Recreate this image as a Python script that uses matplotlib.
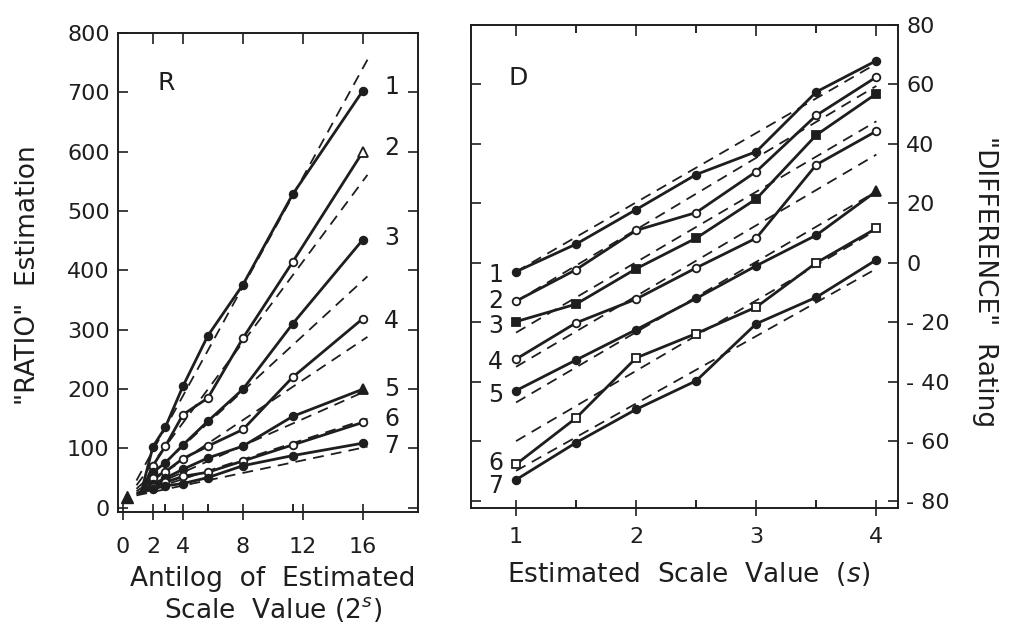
import matplotlib
matplotlib.use("Agg")
import matplotlib.pyplot as plt
from matplotlib.ticker import FixedLocator

plt.rcParams['font.family'] = ['DejaVu Sans']

# ---------------- data ----------------
# Estimated scale values (s) and their antilogs (2^s)
scale_s = [1, 1.5, 2, 2.5, 3, 3.5, 4]
antilog_x = [2, 2.83, 4, 5.66, 8, 11.31, 16]

series_ids = ["1", "2", "3", "4", "5", "6", "7"]

# "RATIO" estimation (left panel)
ratio_1 = [103, 136, 205, 290, 376, 528, 703]
ratio_2 = [71, 104, 157, 185, 286, 414, 600]
ratio_3 = [60, 76, 106, 146, 200, 310, 452]
ratio_4 = [50, 61, 83, 104, 132, 220, 319]
ratio_5 = [40, 50, 65, 84, 104, 154, 200]
ratio_6 = [35, 43, 53, 60, 79, 106, 144]
ratio_7 = [32, 37, 41, 51, 71, 88, 109]
ratio_series = [ratio_1, ratio_2, ratio_3, ratio_4, ratio_5, ratio_6, ratio_7]
# common origin where the ratio curves converge, and the triangle near zero
ratio_origin_x = 1.2
ratio_origin_y = 25
ratio_anchor_x = 0.3
ratio_anchor_y = 18
# dashed linear fits (start / end values)
ratio_fit_x = [0.9, 16.3]
ratio_fit_start = [46, 38, 32, 28, 25, 23, 21]
ratio_fit_end = [755, 561, 390, 288, 198, 150, 103]

# "DIFFERENCE" rating (right panel)
diff_1 = [-3, 6.3, 17.9, 29.7, 37.4, 57.5, 68]
diff_2 = [-12.9, -2.3, 10.9, 16.9, 30.7, 49.6, 62.5]
diff_3 = [-19.8, -13.9, -2, 8.3, 21.5, 43, 56.9]
diff_4 = [-32.4, -20.2, -12.2, -1.7, 8.3, 33, 44.3]
diff_5 = [-43, -32.7, -22.5, -12, -1, 9.3, 24.1]
diff_6 = [-67.8, -52.2, -32, -23.8, -14.9, 0, 11.6]
diff_7 = [-73, -60.5, -49.3, -39.7, -20.5, -11.6, 1]
diff_series = [diff_1, diff_2, diff_3, diff_4, diff_5, diff_6, diff_7]
diff_fit_x = [1, 4]
diff_fit_start = [-3, -13, -23.5, -35, -47, -60, -70]
diff_fit_end = [67, 59.5, 47.6, 36.4, 24, 11, -2]

# tick labels
ratio_xticks = [0, 2, 4, 8, 12, 16]
ratio_yticks = [0, 100, 200, 300, 400, 500, 600, 700, 800]
diff_xticks = [1, 2, 3, 4]
diff_yticks = [-80, -60, -40, -20, 0, 20, 40, 60, 80]
diff_ylabels = ["- 80", "- 60", "- 40", "- 20", "0", "20", "40", "60", "80"]

# marker styles per series: (marker, filled), last-point marker
ratio_markers = [("o", True), ("o", False), ("o", True), ("o", False),
                 ("o", True), ("o", False), ("o", True)]
ratio_last = [None, ("^", False), None, None, ("^", True), None, None]
diff_markers = [("o", True), ("o", False), ("s", True), ("o", False),
                ("o", True), ("s", False), ("o", True)]
diff_last = [None, None, None, None, ("^", True), None, None]

# small label nudges (styling only) to keep the series numbers apart
ratio_label_nudge = [6, 6, 2, -4, 0, 5, -5]
diff_label_nudge = [-1, 0, -1.5, -1, -1.5, 0.5, -2]

INK = "#1e1e1e"
W, H = 1013, 627

fig = plt.figure(figsize=(W / 100, H / 100), dpi=100)
ax1 = fig.add_axes([118 / W, 1 - 512 / H, 300 / W, 479 / H])
ax2 = fig.add_axes([471 / W, 1 - 508 / H, 427 / W, 483 / H])


def draw_series(ax, xs, ys, marker, filled, last):
    ax.plot(xs, ys, color=INK, lw=2.0, solid_capstyle="round", zorder=3)
    mfc = INK if filled else "white"
    ax.plot(xs[:-1] if last else xs, ys[:-1] if last else ys, ls="none",
            marker=marker, ms=5.5, mfc=mfc, mec=INK, mew=1.3, zorder=4)
    if last:
        lm, lf = last
        ax.plot(xs[-1:], ys[-1:], ls="none", marker=lm, ms=7,
                mfc=INK if lf else "white", mec=INK, mew=1.3, zorder=4)


# ---------- left panel ----------
for i, ys in enumerate(ratio_series):
    ax1.plot(ratio_fit_x, [ratio_fit_start[i], ratio_fit_end[i]], color=INK,
             lw=1.3, dashes=(6, 4), zorder=2)
    ax1.plot([ratio_origin_x, antilog_x[0]], [ratio_origin_y, ys[0]],
             color=INK, lw=2.0, zorder=3)
    m, f = ratio_markers[i]
    draw_series(ax1, antilog_x, ys, m, f, ratio_last[i])
    ax1.text(17.9, ys[-1] + ratio_label_nudge[i], series_ids[i], fontsize=17,
             ha="center", va="center", color=INK)
ax1.plot([ratio_anchor_x], [ratio_anchor_y], marker="^", ms=9, color=INK,
         ls="none", zorder=4)

ax1.set_xlim(-0.33, 19.67)
ax1.set_ylim(-7, 800)
ax1.set_xticks(ratio_xticks)
ax1.set_xticklabels([str(v) for v in ratio_xticks])
ax1.xaxis.set_minor_locator(FixedLocator([2.83, 5.66, 11.31]))
ax1.set_yticks(ratio_yticks)
ax1.set_yticklabels([str(v) for v in ratio_yticks])
ax1.tick_params(axis="y", which="major", direction="in", length=7, width=1.2,
                left=True, right=True, labelsize=16, pad=6, colors=INK)
ax1.tick_params(axis="x", which="major", direction="inout", length=12,
                width=1.2, bottom=True, top=False, labelsize=16, pad=12,
                colors=INK)
ax1.tick_params(axis="x", which="minor", direction="in", length=6, width=1.2,
                bottom=True, top=False)
top1 = ax1.secondary_xaxis("top")
top1.set_xticks(ratio_xticks[1:])
top1.tick_params(direction="in", length=8, width=1.2, labeltop=False,
                 colors=INK)
top1.spines["top"].set_visible(False)
ax1.text(0.16, 0.896, "R", transform=ax1.transAxes, fontsize=18,
         ha="center", va="center", color=INK)

# ---------- right panel ----------
for i, ys in enumerate(diff_series):
    ax2.plot(diff_fit_x, [diff_fit_start[i], diff_fit_end[i]], color=INK,
             lw=1.3, dashes=(6, 4), zorder=2)
    m, f = diff_markers[i]
    draw_series(ax2, scale_s, ys, m, f, diff_last[i])
    ax2.text(0.83, ys[0] + diff_label_nudge[i], series_ids[i], fontsize=17,
             ha="center", va="center", color=INK)

ax2.set_xlim(0.625, 4.18)
ax2.set_ylim(-82.5, 80)
ax2.set_xticks(diff_xticks)
ax2.set_xticklabels([str(v) for v in diff_xticks])
ax2.xaxis.set_minor_locator(FixedLocator([1.5, 2.5, 3.5]))
ax2.set_yticks(diff_yticks)
ax2.set_yticklabels(diff_ylabels)
ax2.tick_params(axis="y", which="major", direction="in", length=7, width=1.2,
                left=True, right=True, labelleft=False, labelright=True,
                labelsize=16, pad=6, colors=INK)
ax2.tick_params(axis="x", which="major", direction="inout", length=12,
                width=1.2, bottom=True, top=False, labelsize=16, pad=8,
                colors=INK)
ax2.tick_params(axis="x", which="minor", direction="in", length=6, width=1.2,
                bottom=True, top=True)
top2 = ax2.secondary_xaxis("top")
top2.set_xticks(diff_xticks)
top2.tick_params(direction="in", length=8, width=1.2, labeltop=False,
                 colors=INK)
top2.spines["top"].set_visible(False)
ax2.text(0.11, 0.89, "D", transform=ax2.transAxes, fontsize=18,
         ha="center", va="center", color=INK)

for ax in (ax1, ax2):
    for sp in ax.spines.values():
        sp.set_linewidth(1.4)
        sp.set_color(INK)

# ---------- axis titles ----------
fig.text(28 / W, 1 - 275 / H, '"RATIO"  Estimation', rotation=90,
         fontsize=19, ha="center", va="center", color=INK)
fig.text(985 / W, 1 - 282 / H, '"DIFFERENCE"  Rating', rotation=270,
         fontsize=19, ha="center", va="center", color=INK)
fig.text(273 / W, 1 - 579 / H, "Antilog  of  Estimated", fontsize=19,
         ha="center", va="center", color=INK)
fig.text(273 / W, 1 - 610 / H, r"Scale  Value $(2^s)$", fontsize=19,
         ha="center", va="center", color=INK)
fig.text(689 / W, 1 - 574 / H, r"Estimated  Scale  Value  ($s$)",
         fontsize=19, ha="center", va="center", color=INK)

fig.savefig("out.png", dpi=100, facecolor="white")
